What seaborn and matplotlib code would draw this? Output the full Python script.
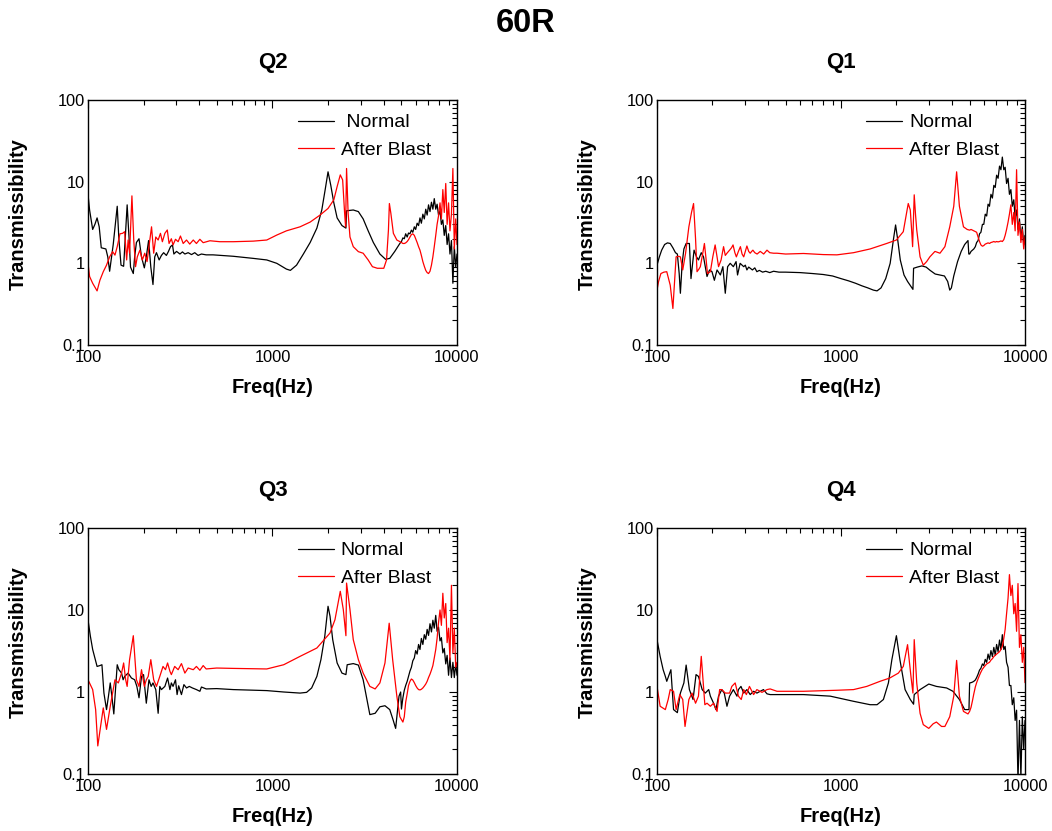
import matplotlib
matplotlib.use("Agg")
import matplotlib.pyplot as plt
import seaborn as sns
import pandas as pd
from matplotlib.ticker import FixedLocator, FixedFormatter, LogLocator, NullFormatter

# ---------------- data ----------------
# shared high-frequency grid (Hz)
freq_hi = [5000, 5090, 5180, 5270, 5370, 5460, 5560, 5660, 5760, 5870,
           5970, 6080, 6190, 6300, 6410, 6530, 6650, 6770, 6890, 7010,
           7140, 7270, 7400, 7530, 7670, 7800, 7940, 8090, 8230, 8380,
           8530, 8690, 8840, 9000, 9160, 9330, 9500, 9670, 9840, 10000]

# Q2
q2_normal_f = [100, 102, 106, 109, 112, 115, 118, 125, 128, 131, 137, 144, 147, 151, 156, 160, 163, 167, 170, 176,
               179, 183, 189, 195, 202, 207, 213, 219, 225, 230, 235, 243, 250, 257, 266, 273, 280, 287, 292, 302,
               315, 325, 335, 349, 364, 379, 395, 412, 437, 476, 613, 786, 931, 1055, 1190, 1250, 1350, 1470, 1600, 1740,
               1850, 1930, 2000, 2070, 2150, 2240, 2380, 2500, 2520, 2740, 2920, 3100, 3300, 3520, 3820, 4100, 4320, 4600, 4900]
q2_normal_v = [7.0, 4.5, 2.6, 3.0, 3.6, 2.8, 1.55, 1.5, 1.2, 0.8, 1.7, 5.0, 2.0, 0.95, 0.92, 2.5, 5.2, 2.0, 0.9, 0.75,
               1.2, 1.8, 2.0, 1.2, 0.88, 1.2, 1.9, 0.9, 0.55, 1.2, 1.35, 1.1, 1.25, 1.35, 1.25, 1.4, 1.6, 1.68, 1.3, 1.4,
               1.3, 1.38, 1.3, 1.35, 1.28, 1.35, 1.25, 1.3, 1.27, 1.27, 1.22, 1.15, 1.1, 1.0, 0.85, 0.82, 0.95, 1.3, 1.8, 2.7,
               4.5, 8.0, 13.2, 9.0, 5.5, 3.6, 2.9, 2.7, 4.4, 4.5, 4.3, 3.5, 2.5, 1.8, 1.3, 1.12, 1.15, 1.4, 1.75]
q2_normal_hi = [1.85, 2.05, 2.0, 2.3, 2.1, 2.35, 2.3, 2.55, 2.4, 2.8, 2.6, 3.1, 2.9, 3.6, 3.1, 4.0, 3.5, 4.6, 3.9, 5.2,
                4.3, 5.6, 4.6, 6.2, 4.6, 5.3, 3.9, 4.4, 3.0, 3.4, 2.2, 2.9, 1.7, 2.3, 1.3, 1.9, 0.57, 1.6, 0.9, 1.3]
q2_blast_f = [100, 102, 106, 112, 116, 121, 126, 131, 136, 140, 144, 149, 154, 158, 162, 165, 168, 173, 177, 181,
              185, 191, 197, 203, 209, 214, 221, 227, 233, 240, 247, 253, 261, 269, 275, 283, 289, 298, 308, 317,
              328, 342, 356, 372, 387, 404, 421, 458, 518, 613, 786, 931, 1055, 1190, 1410, 1600, 1810, 2000, 2150, 2240,
              2330, 2400, 2460, 2490, 2520, 2570, 2630, 2740, 2920, 3100, 3300, 3480, 3700, 4010, 4150, 4250, 4300, 4380, 4520, 4720]
q2_blast_v = [1.0, 0.69, 0.57, 0.46, 0.62, 0.79, 0.95, 1.2, 1.39, 1.26, 1.6, 2.3, 2.33, 2.44, 1.1, 1.93, 1.33, 6.7, 1.93, 0.91,
              1.2, 1.45, 1.1, 1.33, 1.05, 1.6, 2.8, 1.33, 2.1, 1.93, 2.33, 1.84, 2.33, 2.56, 1.75, 2.0, 1.68, 1.97, 1.84, 2.16,
              1.75, 1.93, 1.72, 1.93, 1.75, 1.97, 1.79, 1.89, 1.84, 1.84, 1.87, 1.93, 2.22, 2.5, 2.8, 3.2, 3.9, 4.7, 6.0, 8.7,
              12.1, 10.5, 4.1, 2.8, 14.5, 4.1, 2.1, 1.6, 1.39, 1.33, 1.1, 0.91, 0.87, 0.87, 1.1, 2.56, 5.4, 4.1, 2.33, 1.93]
q2_blast_hi = [1.8, 1.75, 1.75, 1.78, 1.85, 1.95, 2.1, 2.25, 2.3, 2.2, 2.0, 1.8, 1.6, 1.45, 1.25, 1.05, 0.92, 0.82, 0.77, 0.75,
               0.8, 0.95, 1.2, 1.6, 2.2, 3.0, 3.8, 5.5, 3.5, 8.0, 4.2, 9.5, 3.0, 5.5, 2.5, 4.0, 14.5, 1.5, 3.5, 1.7]

# Q1
q1_normal_f = [100, 103, 106, 110, 114, 118, 122, 126, 129, 132, 134, 137, 140, 144, 150, 153, 159, 164, 168, 174,
               179, 183, 187, 193, 199, 205, 212, 221, 228, 235, 242, 250, 260, 269, 274, 283, 290, 296, 302, 308,
               315, 321, 330, 340, 349, 360, 375, 390, 410, 430, 460, 500, 600, 700, 800, 900, 1000, 1100, 1200, 1300,
               1400, 1500, 1570, 1650, 1750, 1850, 1930, 1980, 2030, 2100, 2200, 2300, 2400, 2460, 2480, 2600, 2750, 2900, 3050, 3250,
               3450, 3650, 3800, 3900, 3980, 4100, 4300, 4500, 4700, 4900, 4950]
q1_normal_v = [0.95, 1.2, 1.45, 1.7, 1.78, 1.75, 1.55, 1.35, 1.3, 0.75, 0.43, 1.0, 1.5, 1.75, 1.75, 0.65, 1.45, 1.2, 1.1, 1.35,
               1.2, 0.9, 0.69, 0.83, 0.79, 0.62, 0.83, 0.72, 0.91, 0.43, 0.91, 1.0, 0.91, 1.05, 0.72, 1.0, 0.95, 0.91, 0.95, 0.83,
               0.9, 0.87, 0.83, 0.88, 0.79, 0.82, 0.78, 0.8, 0.77, 0.8, 0.78, 0.78, 0.77, 0.75, 0.73, 0.7, 0.65, 0.61, 0.57, 0.53,
               0.5, 0.47, 0.46, 0.5, 0.65, 1.0, 2.0, 2.95, 2.0, 1.1, 0.72, 0.6, 0.52, 0.48, 0.87, 0.9, 0.93, 0.9, 0.82, 0.74,
               0.72, 0.7, 0.6, 0.47, 0.5, 0.7, 1.05, 1.4, 1.7, 1.9, 1.3]
q1_normal_hi = [1.3, 1.4, 1.45, 1.5, 1.6, 1.8, 1.9, 2.3, 2.4, 3.0, 3.0, 4.0, 3.8, 5.3, 5.0, 7.0, 6.3, 9.0, 8.5, 12.0,
                11.0, 15.5, 14.0, 20.0, 14.0, 15.0, 9.5, 11.0, 7.0, 8.0, 5.0, 6.0, 3.6, 4.5, 2.6, 3.5, 2.0, 2.8, 1.7, 2.2]
q1_blast_f = [100, 102, 105, 109, 113, 118, 122, 127, 131, 134, 138, 143, 149, 154, 158, 162, 165, 169, 172, 177,
              181, 185, 188, 195, 201, 207, 212, 216, 223, 230, 235, 240, 248, 254, 259, 265, 270, 277, 284, 290,
              296, 302, 308, 315, 321, 327, 332, 340, 350, 364, 380, 396, 410, 430, 449, 500, 625, 800, 950, 1170,
              1440, 1770, 2000, 2180, 2270, 2320, 2380, 2420, 2450, 2500, 2540, 2580, 2690, 2800, 2920, 3040, 3240, 3450, 3670, 3900,
              4100, 4250, 4400, 4630, 4850]
q1_blast_v = [0.47, 0.6, 0.75, 0.78, 0.79, 0.54, 0.28, 1.2, 1.22, 1.2, 0.83, 1.33, 2.8, 4.2, 5.4, 2.0, 0.79, 0.85, 0.91, 1.3,
              1.75, 1.1, 0.75, 0.79, 1.2, 1.68, 1.2, 0.91, 1.1, 1.6, 1.25, 1.33, 1.45, 1.55, 1.68, 1.35, 1.2, 1.4, 1.6, 1.3,
              1.2, 1.4, 1.63, 1.4, 1.33, 1.4, 1.45, 1.35, 1.3, 1.4, 1.3, 1.45, 1.35, 1.33, 1.33, 1.3, 1.32, 1.28, 1.27, 1.35,
              1.5, 1.75, 1.93, 2.44, 4.1, 5.4, 4.5, 2.56, 1.6, 6.9, 4.0, 2.56, 1.2, 0.95, 1.05, 1.2, 1.4, 1.33, 1.6, 2.8,
              5.0, 13.2, 5.0, 2.8, 2.6]
q1_blast_hi = [2.55, 2.6, 2.55, 2.5, 2.45, 2.4, 2.1, 1.85, 1.68, 1.62, 1.65, 1.72, 1.75, 1.78, 1.75, 1.8, 1.82, 1.85, 1.82, 1.85,
               1.83, 1.85, 1.88, 1.85, 1.95, 2.2, 2.6, 3.2, 4.0, 5.2, 3.0, 4.2, 2.5, 14.0, 2.2, 3.2, 1.8, 2.6, 1.5, 2.1]

# Q3
q3_normal_f = [100, 103, 106, 112, 116, 119, 122, 126, 129, 132, 135, 138, 144, 147, 152, 155, 158, 165, 172, 179,
               184, 189, 195, 200, 207, 214, 220, 225, 233, 240, 245, 250, 261, 270, 278, 283, 289, 298, 304, 310,
               321, 331, 342, 354, 368, 387, 404, 412, 437, 498, 613, 931, 1150, 1410, 1530, 1630, 1740, 1830, 1920, 2000,
               2050, 2120, 2240, 2380, 2500, 2540, 2740, 2920, 3100, 3250, 3370, 3600, 3820, 4070, 4320, 4500, 4650, 4850, 4950]
q3_normal_v = [7.6, 4.8, 3.3, 2.05, 2.1, 2.15, 0.97, 0.61, 0.88, 1.29, 0.85, 0.54, 2.15, 1.87, 1.7, 1.41, 1.55, 1.7, 1.48, 1.41,
               1.17, 0.85, 1.55, 1.63, 0.73, 1.41, 1.17, 1.29, 1.07, 0.55, 1.17, 1.07, 1.17, 1.48, 1.07, 1.29, 1.17, 1.41, 0.93, 1.19,
               0.93, 1.23, 1.12, 1.17, 1.12, 1.07, 1.02, 1.15, 1.09, 1.1, 1.07, 1.04, 1.0, 0.97, 0.99, 1.12, 1.55, 2.48, 4.77, 11.1,
               8.4, 4.35, 2.26, 1.7, 1.63, 2.15, 2.22, 2.13, 1.41, 0.81, 0.53, 0.55, 0.66, 0.68, 0.61, 0.46, 0.36, 0.89, 1.0]
q3_normal_hi = [0.62, 0.85, 1.05, 1.2, 1.35, 1.55, 1.8, 2.0, 2.4, 2.6, 3.2, 2.9, 3.8, 3.3, 4.5, 3.8, 5.0, 4.4, 5.8, 4.9,
                6.8, 5.4, 7.5, 6.0, 8.6, 5.5, 6.2, 4.2, 4.6, 3.0, 3.4, 2.2, 2.8, 1.6, 2.6, 1.5, 2.3, 1.5, 2.2, 1.6]
q3_blast_f = [100, 106, 110, 113, 117, 121, 123, 126, 132, 140, 146, 152, 156, 160, 163, 168, 176, 183, 189, 195,
              202, 207, 212, 219, 227, 235, 245, 255, 263, 270, 278, 283, 295, 308, 321, 335, 349, 372, 387, 404,
              421, 437, 498, 613, 931, 1150, 1410, 1740, 2050, 2180, 2330, 2420, 2500, 2520, 2630, 2740, 2920, 3100, 3370, 3600,
              3820, 4070, 4290, 4480, 4720, 4900]
q3_blast_v = [1.41, 1.07, 0.61, 0.22, 0.38, 0.64, 0.5, 0.35, 0.67, 1.41, 1.29, 1.7, 2.26, 1.41, 1.17, 2.48, 4.86, 1.41, 1.17, 1.87,
              1.17, 1.41, 1.55, 2.48, 1.41, 1.17, 1.55, 2.05, 1.87, 2.26, 1.79, 1.63, 2.05, 1.87, 2.22, 1.7, 1.96, 1.87, 2.05, 1.84,
              2.1, 1.91, 1.96, 1.94, 1.91, 2.15, 2.72, 3.44, 5.24, 7.6, 16.9, 10.1, 4.86, 21.3, 10.1, 4.35, 2.48, 1.7, 1.17, 1.09,
              1.29, 2.26, 6.9, 2.48, 0.89, 0.5]
q3_blast_hi = [0.46, 0.43, 0.5, 0.75, 0.95, 1.2, 1.35, 1.44, 1.4, 1.3, 1.2, 1.12, 1.07, 1.06, 1.08, 1.12, 1.18, 1.25, 1.35, 1.5,
               1.65, 1.85, 2.1, 2.6, 3.3, 4.5, 7.0, 10.0, 6.5, 16.0, 8.0, 12.0, 4.0, 6.0, 2.5, 20.0, 3.0, 6.0, 2.0, 2.3]

# Q4
q4_normal_f = [100, 104, 108, 111, 113, 119, 123, 129, 134, 140, 144, 150, 157, 163, 168, 176, 183, 191, 195, 203,
               209, 216, 225, 232, 240, 248, 260, 272, 277, 286, 296, 308, 321, 335, 349, 364, 379, 396, 412, 625,
               874, 1170, 1440, 1570, 1700, 1810, 1890, 2000, 2090, 2230, 2380, 2480, 2500, 2690, 3000, 3300, 3750, 4060, 4400, 4700,
               4960]
q4_normal_v = [4.35, 2.72, 1.87, 1.55, 1.35, 1.87, 0.61, 0.56, 0.97, 1.29, 2.13, 1.07, 0.81, 1.63, 1.55, 1.07, 0.97, 1.07, 0.89, 0.73,
               0.61, 0.89, 1.07, 0.97, 0.67, 0.89, 1.07, 0.89, 1.07, 1.17, 0.97, 1.07, 0.93, 1.02, 0.97, 1.02, 1.07, 0.95, 0.93, 0.93,
               0.89, 0.77, 0.7, 0.7, 0.81, 1.29, 2.48, 4.86, 2.48, 1.07, 0.81, 0.71, 0.93, 1.07, 1.25, 1.17, 1.12, 1.02, 0.81, 0.61,
               0.61]
q4_normal_hi = [1.29, 1.3, 1.32, 1.35, 1.4, 1.5, 1.65, 1.85, 1.95, 2.2, 2.1, 2.5, 2.3, 2.9, 2.5, 3.2, 2.7, 3.5, 2.8, 3.8,
                3.1, 4.3, 3.3, 5.0, 3.3, 3.6, 2.3, 2.0, 1.2, 1.2, 0.7, 0.85, 0.45, 0.6, 0.08, 0.45, 0.09, 0.5, 0.2, 0.45]
q4_blast_f = [100, 104, 111, 115, 118, 123, 127, 133, 138, 142, 149, 155, 162, 168, 174, 182, 187, 195, 203, 212,
              219, 225, 235, 248, 255, 266, 277, 287, 296, 306, 318, 335, 349, 372, 396, 412, 449, 625, 950, 1170,
              1380, 1630, 1840, 2050, 2180, 2300, 2400, 2460, 2500, 2580, 2690, 2800, 3000, 3170, 3300, 3520, 3670, 3900, 4100, 4250,
              4400, 4630, 4900]
q4_blast_v = [1.17, 0.67, 0.61, 0.81, 1.07, 1.02, 0.61, 0.93, 0.81, 0.38, 0.81, 0.97, 0.73, 0.89, 2.72, 0.7, 0.73, 0.67, 0.73, 0.58,
              1.07, 1.07, 0.97, 0.97, 1.17, 1.29, 0.89, 0.81, 1.07, 0.93, 1.17, 0.93, 1.07, 0.99, 1.07, 1.09, 1.02, 1.02, 1.05, 1.07,
              1.17, 1.35, 1.48, 1.7, 2.05, 3.78, 1.55, 0.97, 4.35, 1.29, 0.55, 0.4, 0.36, 0.41, 0.43, 0.38, 0.38, 0.5, 0.89, 2.43,
              0.89, 0.58, 0.54]
q4_blast_hi = [0.58, 0.65, 0.78, 0.95, 1.15, 1.3, 1.45, 1.6, 1.75, 1.9, 2.0, 2.1, 2.2, 2.25, 2.3, 2.45, 2.55, 2.7, 2.8, 2.9,
               3.0, 3.1, 3.3, 3.6, 4.5, 5.8, 9.0, 14.0, 27.0, 15.0, 20.0, 9.0, 12.0, 5.5, 21.0, 3.5, 5.0, 2.3, 3.5, 1.3]

panel_titles = ["Q2", "Q1", "Q3", "Q4"]
series_labels = ["Normal", "After Blast"]
x_ticks = [100, 1000, 10000]
x_tick_labels = ["100", "1000", "10000"]
y_ticks = [0.1, 1, 10, 100]
y_tick_labels = ["0.1", "1", "10", "100"]

# ---------------- figure ----------------
sns.set_style("white")
plt.rcParams["font.family"] = ["Liberation Sans", "DejaVu Sans"]
plt.rcParams["text.color"] = "black"
plt.rcParams["axes.labelcolor"] = "black"
plt.rcParams["xtick.color"] = "black"
plt.rcParams["ytick.color"] = "black"

W, H = 1052, 831
fig = plt.figure(figsize=(W / 100, H / 100), dpi=100)

def rect(l, t, r, b):
    return [l / W, 1 - b / H, (r - l) / W, (b - t) / H]

rects = [rect(88, 100, 457, 345), rect(657, 100, 1025, 345),
         rect(88, 528, 457, 774), rect(657, 528, 1025, 774)]

data = [
    (q2_normal_f, q2_normal_v, q2_normal_hi, q2_blast_f, q2_blast_v, q2_blast_hi),
    (q1_normal_f, q1_normal_v, q1_normal_hi, q1_blast_f, q1_blast_v, q1_blast_hi),
    (q3_normal_f, q3_normal_v, q3_normal_hi, q3_blast_f, q3_blast_v, q3_blast_hi),
    (q4_normal_f, q4_normal_v, q4_normal_hi, q4_blast_f, q4_blast_v, q4_blast_hi),
]

for i, (title, r, d) in enumerate(zip(panel_titles, rects, data)):
    nf, nv, nh, bf, bv, bh = d
    ax = fig.add_axes(r)
    df_n = pd.DataFrame({"Freq": nf + freq_hi, "T": nv + nh})
    df_b = pd.DataFrame({"Freq": bf + freq_hi, "T": bv + bh})
    lab_n = (" " + series_labels[0]) if title == "Q2" else series_labels[0]
    sns.lineplot(data=df_n, x="Freq", y="T", ax=ax, color="black", linewidth=0.9,
                 estimator=None, sort=False, label=lab_n)
    sns.lineplot(data=df_b, x="Freq", y="T", ax=ax, color="#ff0000", linewidth=0.9,
                 estimator=None, sort=False, label=series_labels[1])
    ax.set_xscale("log")
    ax.set_yscale("log")
    ax.set_xlim(100, 10000)
    ax.set_ylim(0.1, 100)

    ax.xaxis.set_major_locator(FixedLocator(x_ticks))
    ax.xaxis.set_major_formatter(FixedFormatter(x_tick_labels))
    ax.yaxis.set_major_locator(FixedLocator(y_ticks))
    ax.yaxis.set_major_formatter(FixedFormatter(y_tick_labels))
    ax.xaxis.set_minor_locator(LogLocator(base=10, subs=range(2, 10)))
    ax.yaxis.set_minor_locator(LogLocator(base=10, subs=range(2, 10)))
    ax.xaxis.set_minor_formatter(NullFormatter())
    ax.yaxis.set_minor_formatter(NullFormatter())

    ax.tick_params(which="both", direction="in", top=True, right=True,
                   color="black", width=0.8, labelsize=11.8, labelcolor="black")
    ax.tick_params(which="major", length=6)
    ax.tick_params(which="minor", length=3.5)
    ax.tick_params(axis="y", which="major", pad=2)
    ax.tick_params(axis="x", which="major", pad=3.5)
    for s in ax.spines.values():
        s.set_linewidth(1.0)
        s.set_color("black")

    ax.set_xlabel("Freq(Hz)", fontsize=14.5, fontweight="bold")
    ax.set_ylabel("Transmissibility", fontsize=14.5, fontweight="bold")
    ax.xaxis.set_label_coords(0.5, -0.135)
    ax.yaxis.set_label_coords(-0.163, 0.535)
    ax.set_title(title, fontsize=16, fontweight="bold", pad=23)

    ax.legend(loc="upper left", bbox_to_anchor=(0.569, 0.944), frameon=False,
              fontsize=14, handlelength=1.85, handletextpad=0.35,
              labelspacing=0.5, borderaxespad=0, borderpad=0)

fig.text(0.5, 1 - 32 / H, "60R", ha="center", va="baseline",
         fontsize=23.5, fontweight="bold")

fig.savefig("out.png", dpi=100)
